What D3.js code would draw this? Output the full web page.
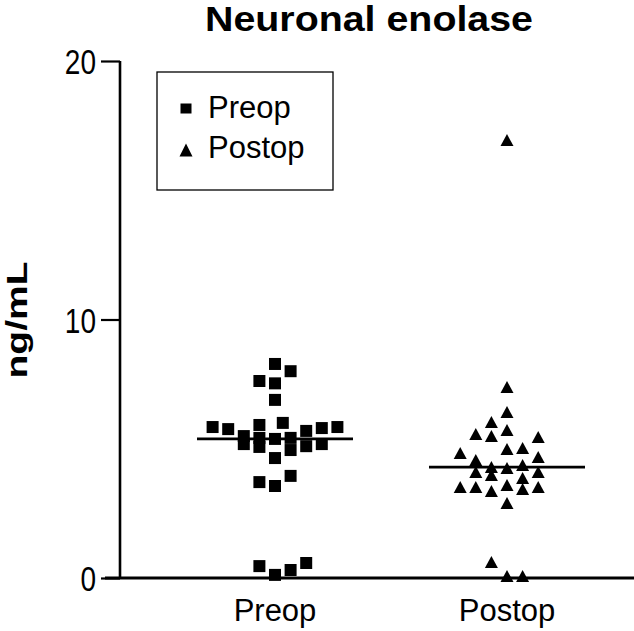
<!DOCTYPE html>
<html>
<head>
<meta charset="utf-8">
<script src="https://cdn.jsdelivr.net/npm/d3@7"></script>
<style>
  body { margin: 0; background: #fff; }
  svg { font-family: "Liberation Sans", Arial, sans-serif; }
</style>
</head>
<body>
<svg width="634" height="631"></svg>
<script>
var categories = ["Preop", "Postop"];
var yTicks = [0, 10, 20];

// values, with their swarm column (slot)
var preopValues = [8.28, 8.0, 7.62, 7.53, 6.89, 5.84, 5.76, 5.92, 6.0, 5.69, 5.8, 5.84,
    5.49, 5.18, 5.42, 5.07, 5.38, 5.42, 5.1, 5.18, 4.95, 4.64, 3.95, 3.71, 3.56,
    0.46, 0.12, 0.31, 0.58];
var preopSlots = [0, 1, -1, 0, 0, -4, -3, -1, 0.5, 2, 3, 4,
    -2, -2, -1, -1, 0, 1, 2, 3, 1, 0, 1, -1, 0,
    -1, 0, 1, 2];
var postopValues = [16.94, 7.39, 6.42, 6.03, 5.57, 5.49, 5.73, 5.45, 4.84, 4.99, 5.03, 4.68,
    4.56, 4.1, 4.29, 3.98, 4.26, 4.37, 4.1, 3.87, 3.52, 3.52, 3.37, 3.6, 3.44, 3.52,
    2.9, 0.62, 0.08, 0.08];
var postopSlots = [0, 0, 0, -1, -2, -1, 0, 2, -3, 0, 1, 2,
    -2, -2, -1, -1, 0, 1, 2, 1, -3, -2, -1, 0, 1, 2,
    0, -1, 0, 1];
var medians = [5.38, 4.29];

var svg = d3.select("svg");

var x = d3.scalePoint().domain(categories).range([275, 507]);
var y = d3.scaleLinear().domain([0, 20]).range([578, 61]);
var step = 15.6;

function tri(w, h) {
    return "M0," + (-h / 2) + "L" + (w / 2) + "," + (h / 2) + "L" + (-w / 2) + "," + (h / 2) + "Z";
}

// title
svg.append("text")
    .attr("x", 205).attr("y", 31)
    .attr("textLength", 328).attr("lengthAdjust", "spacingAndGlyphs")
    .style("font-weight", "bold").style("font-size", "35px")
    .text("Neuronal enolase");

// y axis
var yAxis = svg.append("g").attr("transform", "translate(120,0)")
    .call(d3.axisLeft(y).tickValues(yTicks).tickSize(19).tickPadding(5));
yAxis.select(".domain").attr("stroke-width", 2.6).attr("d", "M0," + y(20) + "V" + y(0));
yAxis.selectAll(".tick line").attr("stroke-width", 2.2);
yAxis.selectAll(".tick text")
    .style("font-size", "35px")
    .style("font-family", "Liberation Sans, Arial, sans-serif")
    .attr("x", -24 / 0.8)
    .attr("dy", "0.36em")
    .attr("transform", "scale(0.8,1)");

svg.append("text")
    .attr("transform", "translate(27,320) rotate(-90) scale(1,0.76)")
    .attr("text-anchor", "middle")
    .style("font-weight", "bold").style("font-size", "39px")
    .text("ng/mL");

// x axis
svg.append("line")
    .attr("x1", 105).attr("x2", 634)
    .attr("y1", y(0)).attr("y2", y(0))
    .attr("stroke", "#000").attr("stroke-width", 3);

svg.selectAll(".xlabel").data(categories).enter().append("text")
    .attr("class", "xlabel")
    .attr("x", function(d) { return x(d); })
    .attr("y", 621)
    .attr("text-anchor", "middle")
    .style("font-size", "31px")
    .text(function(d) { return d; });

// points
var pre = preopValues.map(function(v, i) { return {v: v, s: preopSlots[i]}; });
var post = postopValues.map(function(v, i) { return {v: v, s: postopSlots[i]}; });

svg.selectAll(".sq").data(pre).enter().append("path")
    .attr("class", "sq")
    .attr("d", d3.symbol().type(d3.symbolSquare).size(144))
    .attr("transform", function(d) {
        return "translate(" + (x("Preop") + d.s * step) + "," + y(d.v) + ")";
    });

svg.selectAll(".tri").data(post).enter().append("path")
    .attr("class", "tri")
    .attr("d", tri(13, 12))
    .attr("transform", function(d) {
        return "translate(" + (x("Postop") + d.s * step) + "," + y(d.v) + ")";
    });

// median lines
svg.selectAll(".med").data(medians).enter().append("line")
    .attr("class", "med")
    .attr("x1", function(d, i) { return x(categories[i]) - 78; })
    .attr("x2", function(d, i) { return x(categories[i]) + 78; })
    .attr("y1", function(d) { return y(d); })
    .attr("y2", function(d) { return y(d); })
    .attr("stroke", "#000").attr("stroke-width", 2.7);

// legend
var legend = svg.append("g");
legend.append("rect")
    .attr("x", 157).attr("y", 72).attr("width", 176).attr("height", 118)
    .attr("fill", "none").attr("stroke", "#000").attr("stroke-width", 1.3);
legend.append("rect")
    .attr("x", 180.5).attr("y", 103.5).attr("width", 11).attr("height", 10);
legend.append("path")
    .attr("d", tri(13, 13))
    .attr("transform", "translate(186,150)");
legend.append("text").attr("x", 208).attr("y", 118)
    .style("font-size", "31px").text("Preop");
legend.append("text").attr("x", 208).attr("y", 158)
    .style("font-size", "31px").text("Postop");
</script>
</body>
</html>
